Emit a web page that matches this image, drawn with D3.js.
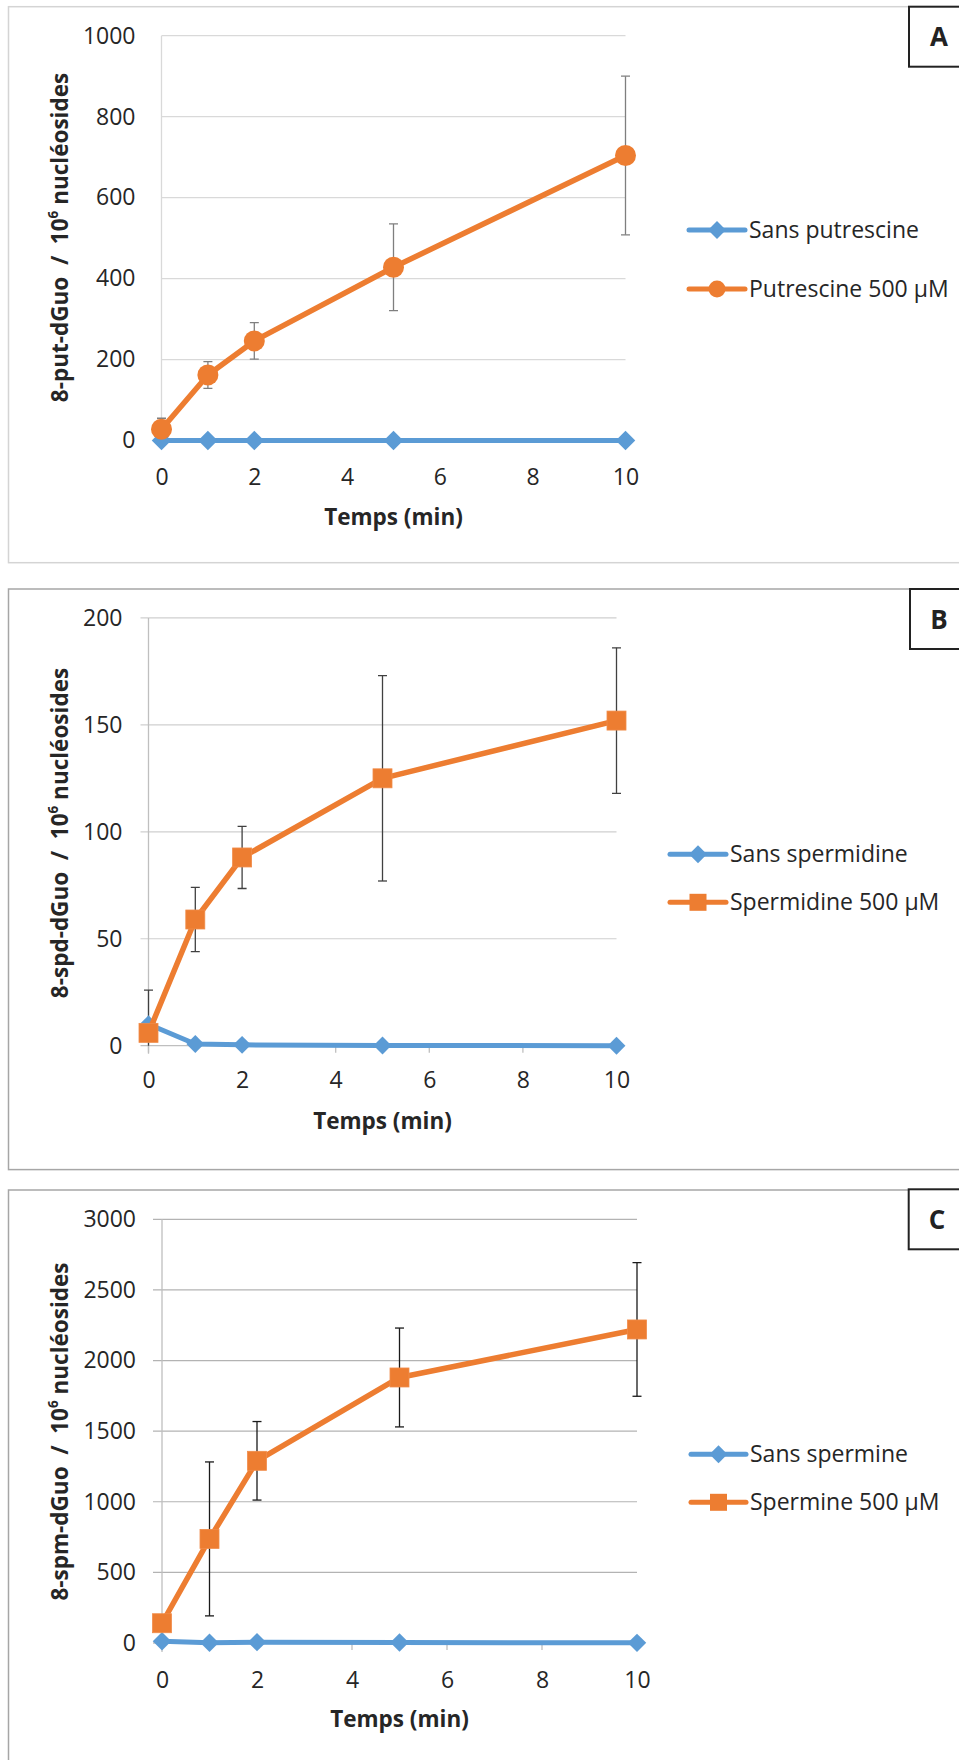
<!DOCTYPE html>
<html><head><meta charset="utf-8">
<script src="https://cdn.jsdelivr.net/npm/d3@7"></script>
<style>body{margin:0;background:#fff} svg{display:block}</style>
</head><body><svg id="c" width="959" height="1760"></svg>
<script>
// ---- data ----
const times = [0, 1, 2, 5, 10];
const xTickValues = [0, 2, 4, 6, 8, 10];
const panelLetters = ["A", "B", "C"];
const yTitlePrefix = ["8-put-dGuo\u00a0 /\u00a0 10", "8-spd-dGuo\u00a0 /\u00a0 10", "8-spm-dGuo\u00a0 /\u00a0 10"];
const yTitleSup = "6";
const yTitleSuffix = " nucléosides";
const xTitle = "Temps (min)";
const legendNone = ["Sans putrescine", "Sans spermidine", "Sans spermine"];
const legendWith = ["Putrescine 500 µM", "Spermidine 500 µM", "Spermine 500 µM"];
const yTicksA = [0, 200, 400, 600, 800, 1000];
const yTicksB = [0, 50, 100, 150, 200];
const yTicksC = [0, 500, 1000, 1500, 2000, 2500, 3000];
const putNone = [0, 0, 0, 0, 0];
const putWith = [28, 162, 246, 428, 704];
const putErr  = [27, 33, 45, 107, 196];
const spdNone = [10, 0.8, 0.4, 0.1, 0];
const spdWith = [6, 59, 88, 125, 152];
const spdErr  = [20, 15, 14.5, 48, 34];
const spmNone = [12, 2, 6, 3, 1];
const spmWith = [140, 737, 1290, 1880, 2220];
const spmErr  = [0, 545, 278, 350, 473];

// ---- layout ----
const BLUE = "#5b9bd5", ORANGE = "#ed7d31";
const FONT = "'Open Sans', 'DejaVu Sans', sans-serif";
const panels = [
  {letter: panelLetters[0], yTicks: yTicksA, none: putNone, withV: putWith, err: putErr,
   marker: "circle", yTitle: yTitlePrefix[0], legN: legendNone[0], legW: legendWith[0],
   frame: {y: 6.7, h: 556, color: "#d4d4d4"}, px0: 161.5, px1: 625.5, py0: 440.5, py1: 35.7,
   tick: 0, grid: "#d9d9d9", axis: "#d9d9d9", errColor: "#7f7f7f",
   yTitleY: 237.5, xLabY: 476.5, xTitleY: 517, legX0: 689, legX1: 745, legTX: 749, legY: [230, 289],
   box: {x: 909, y: 6.7, cx: 939, cy: 36.7}, diam: 190},
  {letter: panelLetters[1], yTicks: yTicksB, none: spdNone, withV: spdWith, err: spdErr,
   marker: "square", yTitle: yTitlePrefix[1], legN: legendNone[1], legW: legendWith[1],
   frame: {y: 589, h: 580.6, color: "#a6a6a6"}, px0: 148.5, px1: 616.5, py0: 1045.7, py1: 617.9,
   tick: 8, grid: "#cfcfcf", axis: "#bfbfbf", errColor: "#404040",
   yTitleY: 833, xLabY: 1080, xTitleY: 1121, legX0: 670, legX1: 726, legTX: 730, legY: [854.3, 902.3],
   box: {x: 910, y: 589, cx: 939, cy: 619.3}, diam: 160},
  {letter: panelLetters[2], yTicks: yTicksC, none: spmNone, withV: spmWith, err: spmErr,
   marker: "square", yTitle: yTitlePrefix[2], legN: legendNone[2], legW: legendWith[2],
   frame: {y: 1190, h: 700, color: "#a6a6a6"}, px0: 162, px1: 637, py0: 1643, py1: 1219.3,
   tick: 9, grid: "#b3b3b3", axis: "#bfbfbf", errColor: "#1a1a1a",
   yTitleY: 1431.5, xLabY: 1679.5, xTitleY: 1719.5, legX0: 691, legX1: 746, legTX: 750, legY: [1454.3, 1502.3],
   box: {x: 908.7, y: 1189.3, cx: 937, cy: 1220}, diam: 170}
];

const svg = d3.select("#c");
const defs = svg.append("defs");

panels.forEach((p, i) => {
  const g = svg.append("g");
  const yMax = p.yTicks[p.yTicks.length - 1];
  const x = d3.scaleLinear().domain([0, 10]).range([p.px0, p.px1]);
  const y = d3.scaleLinear().domain([0, yMax]).range([p.py0, p.py1]);

  // frame
  g.append("rect").attr("x", 8.5).attr("y", p.frame.y).attr("width", 1000).attr("height", p.frame.h)
    .attr("fill", "none").attr("stroke", p.frame.color).attr("stroke-width", 1.5);

  // clip
  defs.append("clipPath").attr("id", "clip" + i).append("rect")
    .attr("x", p.px0 - 20).attr("y", p.py1).attr("width", p.px1 - p.px0 + 40).attr("height", p.py0 - p.py1);

  // gridlines
  g.append("g").selectAll("line").data(p.yTicks.filter(t => t > 0)).join("line")
    .attr("x1", p.px0 - p.tick).attr("x2", p.px1)
    .attr("y1", d => y(d)).attr("y2", d => y(d))
    .attr("stroke", p.grid).attr("stroke-width", 1.2);

  // axis lines
  g.append("line").attr("x1", p.px0).attr("x2", p.px0).attr("y1", p.py1).attr("y2", p.py0 + (p.tick ? p.tick : 0))
    .attr("stroke", p.axis).attr("stroke-width", 1.3);
  g.append("line").attr("x1", p.px0 - p.tick).attr("x2", p.px1).attr("y1", p.py0).attr("y2", p.py0)
    .attr("stroke", p.axis).attr("stroke-width", 1.3);
  if (p.tick) {
    g.append("g").selectAll("line").data(xTickValues).join("line")
      .attr("x1", d => x(d)).attr("x2", d => x(d)).attr("y1", p.py0).attr("y2", p.py0 + 7)
      .attr("stroke", p.axis).attr("stroke-width", 1.3);
  }

  // y axis labels
  const ya = g.append("g").attr("transform", `translate(${p.px0},0)`)
    .call(d3.axisLeft(y).tickValues(p.yTicks).tickSize(0).tickPadding(26).tickFormat(d3.format("d")));
  ya.select(".domain").remove();
  ya.selectAll("text").attr("font-family", FONT).attr("font-size", 23).attr("fill", "#262626");

  // x axis labels
  const xa = g.append("g").attr("transform", `translate(0,${p.py0})`)
    .call(d3.axisBottom(x).tickValues(xTickValues).tickSize(0).tickFormat(d3.format("d")));
  xa.select(".domain").remove();
  xa.selectAll("text").attr("font-family", FONT).attr("font-size", 23).attr("fill", "#262626")
    .attr("y", p.xLabY - p.py0).attr("dy", "0.36em");

  // axis titles
  g.append("text").attr("x", (p.px0 + p.px1) / 2).attr("y", p.xTitleY).attr("dy", "0.35em")
    .attr("text-anchor", "middle").attr("font-family", FONT).attr("font-weight", "bold")
    .attr("font-size", 22.5).attr("fill", "#262626").text(xTitle);
  const yt = g.append("text").attr("transform", `translate(60,${p.yTitleY}) rotate(-90)`)
    .attr("text-anchor", "middle").attr("dy", "0.35em").attr("font-family", FONT)
    .attr("font-weight", "bold").attr("font-size", 22.5).attr("fill", "#262626");
  yt.append("tspan").text(p.yTitle);
  yt.append("tspan").attr("font-size", "0.6em").attr("dy", "-0.75em").text(yTitleSup);
  yt.append("tspan").attr("dy", "0.45em").text(yTitleSuffix);

  // error bars (orange series)
  const eb = g.append("g").attr("clip-path", `url(#clip${i})`)
    .selectAll("g").data(times.map((t, k) => ({t, v: p.withV[k], e: p.err[k]})).filter(d => d.e > 0)).join("g")
    .attr("stroke", p.errColor).attr("stroke-width", 1.3);
  eb.append("line").attr("x1", d => x(d.t)).attr("x2", d => x(d.t))
    .attr("y1", d => y(d.v + d.e)).attr("y2", d => y(d.v - d.e));
  eb.append("line").attr("x1", d => x(d.t) - 4.5).attr("x2", d => x(d.t) + 4.5)
    .attr("y1", d => y(d.v + d.e)).attr("y2", d => y(d.v + d.e));
  eb.append("line").attr("x1", d => x(d.t) - 4.5).attr("x2", d => x(d.t) + 4.5)
    .attr("y1", d => y(d.v - d.e)).attr("y2", d => y(d.v - d.e));

  const line = d3.line().x(d => x(d[0])).y(d => y(d[1]));
  const diamond = d3.symbol(d3.symbolSquare, p.diam);

  // blue series
  const blue = times.map((t, k) => [t, p.none[k]]);
  g.append("path").attr("d", line(blue)).attr("fill", "none").attr("stroke", BLUE)
    .attr("stroke-width", 5).attr("stroke-linejoin", "round");
  g.append("g").selectAll("path").data(blue).join("path").attr("d", diamond)
    .attr("transform", d => `translate(${x(d[0])},${y(d[1])}) rotate(45)`).attr("fill", BLUE);

  // orange series
  const orange = times.map((t, k) => [t, p.withV[k]]);
  g.append("path").attr("d", line(orange)).attr("fill", "none").attr("stroke", ORANGE)
    .attr("stroke-width", 5.5).attr("stroke-linejoin", "round");
  if (p.marker === "circle") {
    g.append("g").selectAll("circle").data(orange).join("circle")
      .attr("cx", d => x(d[0])).attr("cy", d => y(d[1])).attr("r", 10.5).attr("fill", ORANGE);
  } else {
    g.append("g").selectAll("rect").data(orange).join("rect")
      .attr("x", d => x(d[0]) - 9.5).attr("y", d => y(d[1]) - 9.5).attr("width", 19).attr("height", 19)
      .attr("fill", ORANGE).attr("stroke", "#f08c4a").attr("stroke-width", 0.8);
  }

  // legend
  const lg = g.append("g");
  const lmid = (p.legX0 + p.legX1) / 2;
  [[p.legN, BLUE, "diamond"], [p.legW, ORANGE, p.marker]].forEach((L, k) => {
    const ly = p.legY[k];
    lg.append("line").attr("x1", p.legX0).attr("x2", p.legX1).attr("y1", ly).attr("y2", ly)
      .attr("stroke", L[1]).attr("stroke-width", 5).attr("stroke-linecap", "round");
    if (L[2] === "diamond") {
      lg.append("path").attr("d", d3.symbol(d3.symbolSquare, 160)())
        .attr("transform", `translate(${lmid},${ly}) rotate(45)`).attr("fill", L[1]);
    } else if (L[2] === "circle") {
      lg.append("circle").attr("cx", lmid).attr("cy", ly).attr("r", 8.5).attr("fill", L[1]);
    } else {
      lg.append("rect").attr("x", lmid - 8.5).attr("y", ly - 8.5).attr("width", 17).attr("height", 17).attr("fill", L[1]);
    }
    lg.append("text").attr("x", p.legTX).attr("y", ly).attr("dy", "0.35em")
      .attr("font-family", FONT).attr("font-size", 23).attr("fill", "#262626").text(L[0]);
  });

  // letter box
  g.append("rect").attr("x", p.box.x).attr("y", p.box.y).attr("width", 80).attr("height", 60)
    .attr("fill", "#fff").attr("stroke", "#222").attr("stroke-width", 2);
  g.append("text").attr("x", p.box.cx).attr("y", p.box.cy).attr("dy", "0.36em").attr("text-anchor", "middle")
    .attr("font-family", FONT).attr("font-weight", "bold").attr("font-size", 26).attr("fill", "#222").text(p.letter);
});
</script>
</body></html>
